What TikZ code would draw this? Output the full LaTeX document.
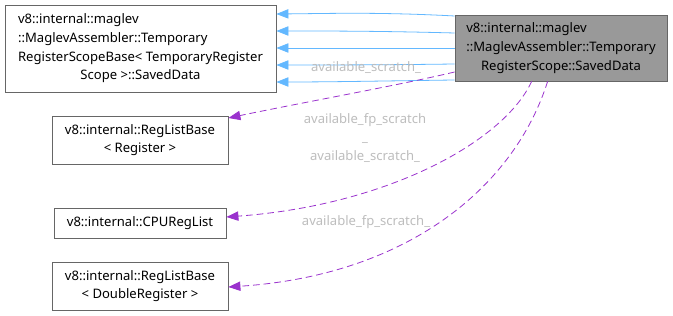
\documentclass[tikz,border=0pt]{standalone}
\usepackage{fontspec}
\setmainfont{Noto Sans}
\usetikzlibrary{arrows.meta,calc}
\definecolor{inhblue}{HTML}{63B8FF}
\definecolor{usepurple}{HTML}{9A32CD}
\definecolor{lblgray}{HTML}{BDBDBD}
\definecolor{boxedge}{HTML}{666666}
\definecolor{focusfill}{HTML}{999999}
% left-aligned rows; a row starting with \hfil is centred
\newcommand{\leftrows}[1]{\vbox{\halign{##\hfil\cr#1\crcr}}}
\tikzset{
  every node/.style={font=\fontsize{9.8pt}{14pt}\selectfont},
  classbox/.style={draw=boxedge, line width=0.6pt, fill=white, inner sep=0pt, align=center},
  focusbox/.style={classbox, fill=focusfill},
  inherit/.style={draw=inhblue, line width=0.6pt, -{Triangle[length=9pt,width=7pt]}},
  uses/.style={draw=usepurple, line width=0.6pt, dash pattern=on 5pt off 3pt, -{Triangle[length=9pt,width=7pt]}},
  lbl/.style={text=lblgray, align=center, inner sep=0pt}
}
\begin{document}
\begin{tikzpicture}[x=0.75pt,y=-0.75pt]
  \useasboundingbox (0,0) rectangle (673,316);

  % classes
  \node[classbox, minimum width=271*0.75pt, minimum height=87*0.75pt] (base) at (140.5,48.5)
    {\leftrows{v8::internal::maglev\cr ::MaglevAssembler::Temporary\cr RegisterScopeBase< TemporaryRegister\cr \hfil Scope >::SavedData\cr}};
  \node[focusbox, minimum width=212*0.75pt, minimum height=66*0.75pt] (saved) at (561,48)
    {\leftrows{v8::internal::maglev\cr ::MaglevAssembler::Temporary\cr \hfil RegisterScope::SavedData\cr}};
  \node[classbox, minimum width=176*0.75pt, minimum height=48*0.75pt] (reg) at (140,140)
    {v8::internal::RegListBase\\< Register >};
  \node[classbox, minimum width=172*0.75pt, minimum height=30*0.75pt] (cpu) at (140,223)
    {v8::internal::CPURegList};
  \node[classbox, minimum width=176*0.75pt, minimum height=48*0.75pt] (dbl) at (140,286)
    {v8::internal::RegListBase\\< DoubleRegister >};

  % inheritance edges
  \draw[inherit] ($(saved.west)+(0,-32)$) .. controls (380,12) and (330,13.5) .. ($(base.east)+(0,-34.5)$);
  \draw[inherit] ($(saved.west)+(0,-15)$) .. controls (380,31) and (330,31) .. ($(base.east)+(0,-17.5)$);
  \draw[inherit] (saved.west) -- ($(base.east)+(0,-0.5)$);
  \draw[inherit] ($(saved.west)+(0,16)$) .. controls (380,65) and (330,65) .. ($(base.east)+(0,16.5)$);
  \draw[inherit] ($(saved.west)+(0,32)$) .. controls (380,81) and (330,82) .. ($(base.east)+(0,33.5)$);

  % member edges
  \draw[uses] ($(saved.west)+(0,24)$) .. controls (400,85) and (300,103) .. ($(reg.east)+(0,-22)$);
  \draw[uses] ($(saved.south west)+(77,0)$) .. controls (505,140) and (390,205) .. ($(cpu.east)+(0,-6)$);
  \draw[uses] ($(saved.south west)+(93,0)$) .. controls (515,185) and (410,275) .. ($(dbl.east)+(0,1)$);

  % edge labels
  \node[lbl] (l1) at (366,68) {available\_scratch\_};
  \node[lbl] (l2) at (365,138) {available\_fp\_scratch\\\_\\available\_scratch\_};
  \node[lbl] (l3) at (366,222) {available\_fp\_scratch\_};
\end{tikzpicture}
\end{document}
